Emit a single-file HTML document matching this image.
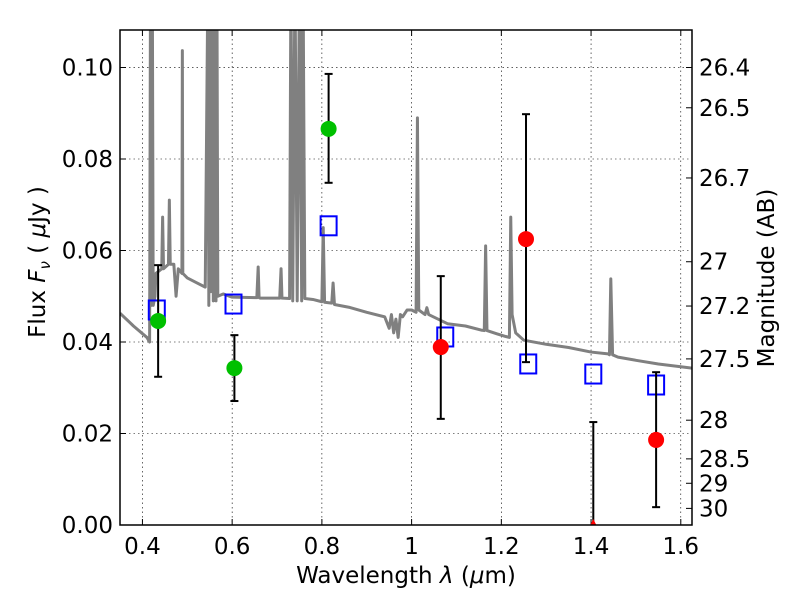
<!DOCTYPE html>
<html><head><meta charset="utf-8"><style>
body{margin:0;background:#fff;}
svg text{font-family:"DejaVu Sans","Liberation Sans",sans-serif;}
</style></head><body>
<svg id="c" width="800" height="600" xmlns="http://www.w3.org/2000/svg"></svg>
<script>
const xTicks=[0.4,0.6,0.8,1.0,1.2,1.4,1.6];
const xTickLabels=["0.4","0.6","0.8","1","1.2","1.4","1.6"];
const yTicks=[0,0.02,0.04,0.06,0.08,0.10];
const yTickLabels=["0.00","0.02","0.04","0.06","0.08","0.10"];
const magTicks=[26.4,26.5,26.7,27,27.2,27.5,28,28.5,29,30];
const magTickLabels=["26.4","26.5","26.7","27","27.2","27.5","28","28.5","29","30"];
const specLam=[0.35,0.38,0.41,0.416,0.418,0.42,0.422,0.424,0.428,0.43,0.443,0.445,0.447,0.458,0.46,0.462,0.47,0.475,0.48,0.488,0.489,0.490,0.5,0.52,0.54,0.546,0.548,0.55,0.552,0.556,0.558,0.562,0.564,0.566,0.568,0.58,0.6,0.655,0.658,0.66,0.662,0.706,0.709,0.711,0.713,0.728,0.731,0.735,0.74,0.745,0.75,0.755,0.758,0.762,0.78,0.8,0.803,0.806,0.822,0.825,0.828,0.86,0.9,0.94,0.95,0.955,0.96,0.965,0.97,0.975,0.98,0.99,1.0,1.01,1.013,1.016,1.03,1.034,1.038,1.08,1.12,1.155,1.162,1.165,1.168,1.19,1.21,1.218,1.221,1.224,1.232,1.25,1.3,1.35,1.4,1.438,1.441,1.444,1.448,1.46,1.5,1.55,1.6,1.625];
const specFlux=[0.0463,0.0435,0.041,0.040,0.12,0.048,0.12,0.048,0.050,0.055,0.056,0.0673,0.056,0.057,0.071,0.057,0.057,0.050,0.056,0.055,0.1037,0.055,0.054,0.053,0.052,0.12,0.048,0.12,0.051,0.12,0.049,0.12,0.049,0.12,0.050,0.0505,0.0498,0.0497,0.0564,0.0497,0.0496,0.0496,0.056,0.0496,0.0496,0.0495,0.12,0.049,0.12,0.049,0.12,0.049,0.12,0.0495,0.0493,0.0488,0.065,0.0487,0.0485,0.0529,0.0482,0.0476,0.0465,0.0455,0.043,0.046,0.042,0.045,0.041,0.046,0.0455,0.047,0.047,0.0465,0.089,0.047,0.046,0.0475,0.046,0.044,0.0435,0.0426,0.0425,0.061,0.0425,0.0418,0.0412,0.041,0.0673,0.046,0.042,0.0404,0.0395,0.0388,0.0378,0.0374,0.0372,0.0538,0.0372,0.0367,0.036,0.0352,0.0346,0.0343];
const obsLam=[0.435,0.605,0.815,1.065,1.255,1.405,1.545];
const obsFlux=[0.0446,0.0343,0.0866,0.0389,0.0625,0.0,0.0186];
const obsErrHi=[0.0568,0.0415,0.0986,0.0544,0.0898,0.0225,0.0334];
const obsErrLo=[0.0324,0.0271,0.0748,0.0232,0.0356,0.0,0.0039];
const obsColor=["#00c000","#00c000","#00c000","#ff0000","#ff0000","#ff0000","#ff0000"];
const modLam=[0.432,0.603,0.815,1.075,1.26,1.405,1.545];
const modFlux=[0.047,0.0483,0.0654,0.0411,0.0352,0.033,0.0306];

const L=120,R=692,T=30,B=525,xmin=0.35,xmax=1.625,ymin=0,ymax=0.1082;
const sx=v=>L+(v-xmin)/(xmax-xmin)*(R-L);
const sy=v=>B-(v-ymin)/(ymax-ymin)*(B-T);
const sm=m=>sy(Math.pow(10,(23.9-m)/2.5));
const svg=document.getElementById('c');
const NS="http://www.w3.org/2000/svg";
function mk(t,a,p){const e=document.createElementNS(NS,t);for(const k in a)e.setAttribute(k,a[k]);(p||svg).appendChild(e);return e;}
const defs=mk('defs',{});const cp=mk('clipPath',{id:'clip'},defs);mk('rect',{x:L,y:T,width:R-L,height:B-T},cp);
const grid=mk('g',{});


xTicks.forEach((v,i)=>{
 mk('line',{x1:sx(v),x2:sx(v),y1:T,y2:B,stroke:'#000','stroke-width':0.6,'stroke-dasharray':'1.5,3'},grid);
 mk('line',{x1:sx(v),x2:sx(v),y1:B,y2:B-6,stroke:'#000'},grid);
 mk('line',{x1:sx(v),x2:sx(v),y1:T,y2:T+6,stroke:'#000'},grid);
 const t=mk('text',{x:sx(v),y:B+29,'font-size':23,'text-anchor':'middle'});t.textContent=xTickLabels[i];
 
 
});
yTicks.forEach((v,i)=>{
 mk('line',{x1:L,x2:R,y1:sy(v),y2:sy(v),stroke:'#000','stroke-width':0.6,'stroke-dasharray':'1.5,3'},grid);
 mk('line',{x1:L,x2:L+6,y1:sy(v),y2:sy(v),stroke:'#000'},grid);
 const t=mk('text',{x:L-7,y:sy(v)+8,'font-size':23,'text-anchor':'end'});t.textContent=yTickLabels[i];
 
 
});
magTicks.forEach((m,i)=>{
 mk('line',{x1:R,x2:R-6,y1:sm(m),y2:sm(m),stroke:'#000'},grid);
 const t=mk('text',{x:R+7,y:sm(m)+8,'font-size':23});t.textContent=magTickLabels[i];
 
 
});
const sp=mk('polyline',{points:specLam.map((l,i)=>sx(l)+','+sy(specFlux[i])).join(' '),fill:'none',stroke:'#808080','stroke-width':3,'stroke-linejoin':'round','clip-path':'url(#clip)'});


modLam.forEach((l,i)=>{
 const r=mk('rect',{x:sx(l)-8,y:sy(modFlux[i])-9.5,width:16,height:19,fill:'none',stroke:'#0000ff','stroke-width':2});
 
 
});
obsLam.forEach((l,i)=>{
 const g=mk('g',{});
 
 
 const x=sx(l);
 mk('line',{x1:x,x2:x,y1:sy(obsErrHi[i]),y2:sy(obsErrLo[i]),stroke:'#000','stroke-width':2},g);
 mk('line',{x1:x-4,x2:x+4,y1:sy(obsErrHi[i]),y2:sy(obsErrHi[i]),stroke:'#000','stroke-width':2},g);
 if(obsErrLo[i]>0)mk('line',{x1:x-4,x2:x+4,y1:sy(obsErrLo[i]),y2:sy(obsErrLo[i]),stroke:'#000','stroke-width':2},g);
 if(obsFlux[i]>0.002)mk('circle',{cx:x,cy:sy(obsFlux[i]),r:8,fill:obsColor[i]},g);
 else mk('path',{d:`M${x-3},${B} L${x},${B-6} L${x+3},${B} Z`,fill:obsColor[i]},g);
});
const fr=mk('rect',{x:L,y:T,width:R-L,height:B-T,fill:'none',stroke:'#000','stroke-width':1.5});


const xl=mk('text',{x:406,y:583,'font-size':23,'text-anchor':'middle'});
xl.innerHTML='Wavelength  <tspan font-style="italic">λ</tspan> (<tspan font-style="italic">μ</tspan>m)';


const yl=mk('text',{x:0,y:0,'font-size':23,'text-anchor':'middle',transform:'translate(45,262) rotate(-90)'});
yl.innerHTML='Flux  <tspan font-style="italic">F</tspan><tspan font-style="italic" font-size="15" dy="5">ν</tspan><tspan dy="-5">  (  </tspan><tspan font-style="italic">μ</tspan>Jy )';


const rl=mk('text',{x:0,y:0,'font-size':23,'text-anchor':'middle',transform:'translate(774,278) rotate(-90)'});
rl.textContent='Magnitude (AB)';


</script>
</body></html>
